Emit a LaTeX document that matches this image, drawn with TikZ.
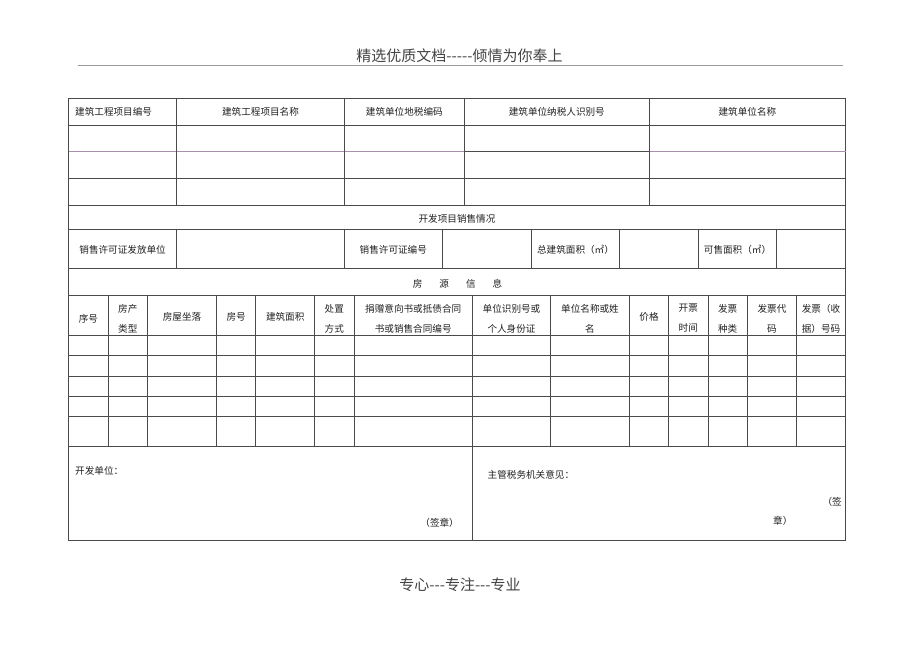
\documentclass[tikz,border=0pt]{standalone}
\usepackage{fontspec}
\newfontfamily\cjk{Noto Sans CJK SC}
\definecolor{rulec}{HTML}{4A4A4A}
\definecolor{plinec}{HTML}{A890AC}
\definecolor{hdrc}{HTML}{444444}
\definecolor{txtc}{HTML}{222222}
\begin{document}
\begin{tikzpicture}[x=1pt,y=-1pt,
  cell/.style={font=\cjk\fontsize{9.6}{20}\selectfont, text=txtc, inner sep=0pt, align=center},
  lcell/.style={cell, anchor=west},
  rcell/.style={cell, anchor=east},
  grid/.style={draw=rulec, line width=0.8pt},
  pgrid/.style={draw=plinec, line width=0.9pt},
  titletext/.style={font=\cjk\fontsize{15}{18}\selectfont, text=hdrc, inner sep=0pt}]
\path[use as bounding box, fill=white] (0,0) rectangle (920,651);

% header and footer
\node[titletext] (head) at (459.5,55.5) {精选优质文档-----倾情为你奉上};
\coordinate (hl) at (78,65.7);
\coordinate (hr) at (843,65.7);
\draw[draw=black!40, line width=0.7pt] (hl) -- (hr);
\node[titletext] (foot) at (460,585) {专心---专注---专业};

% outer frame
\draw[grid] (68.5,98.5) rectangle (845.5,540.5);

% horizontal rules
\foreach \y in {125,178.3,205,229.3,268.3,295.7,335.7,355.7,376,396,416,446.7}
  \draw[grid] (68.5,\y) -- (845.5,\y);
\draw[pgrid] (68.5,151.7) -- (464.3,151.7);
\draw[grid] (464.3,151.7) -- (649.3,151.7);
\draw[pgrid] (649.3,151.7) -- (845.5,151.7);

% vertical rules: project rows
\foreach \x in {176.7,344.3,464.3,649.3}
  \draw[grid] (\x,98.5) -- (\x,205);
% sales row
\foreach \x in {176.7,344.3,442.3,531,619.3,698.3,776.7}
  \draw[grid] (\x,229.3) -- (\x,268.3);
% house rows
\foreach \x in {108.3,147.3,216.7,255.7,314.7,354,472.3,550.7,629.3,668.7,708,747.3,796.7}
  \draw[grid] (\x,295.7) -- (\x,446.7);
% bottom
\draw[grid] (472.3,446.7) -- (472.3,540.5);

% project header
\node[lcell] (c1) at (75,112) {建筑工程项目编号};
\node[cell] (c2) at (260.5,112) {建筑工程项目名称};
\node[cell] (c3) at (404.3,112) {建筑单位地税编码};
\node[cell] (c4) at (556.8,112) {建筑单位纳税人识别号};
\node[cell] (c5) at (747.4,112) {建筑单位名称};

% sales
\node[cell] (sales) at (457,219) {开发项目销售情况};
\node[cell] (s1) at (122.6,250) {销售许可证发放单位};
\node[cell] (s2) at (393.3,250) {销售许可证编号};
\node[cell] (s3) at (575.5,250) {总建筑面积（㎡）};
\node[cell] (s4) at (737.5,250) {可售面积（㎡）};

% house info
\node[cell] (house) at (457.5,284) {房\hspace{17pt}源\hspace{17pt}信\hspace{17pt}息};
\node[cell] (h1) at (88.4,318.5) {序号};
\node[cell] (h2) at (127.8,318.5) {房产\\类型};
\node[cell] (h3) at (182,317) {房屋坐落};
\node[cell] (h4) at (236.2,317) {房号};
\node[cell] (h5) at (285.2,317) {建筑面积};
\node[cell] (h6) at (334.3,318.5) {处置\\方式};
\node[cell] (h7) at (413.2,318.5) {捐赠意向书或抵债合同\\书或销售合同编号};
\node[cell] (h8) at (511.5,318.5) {单位识别号或\\个人身份证};
\node[cell] (h9) at (590,318.5) {单位名称或姓\\名};
\node[cell] (h10) at (649,317) {价格};
\node[cell] (h11) at (688.3,318.5) {开票\\时间};
\node[cell] (h12) at (727.7,318.5) {发票\\种类};
\node[cell] (h13) at (772,318.5) {发票代\\码};
\node[cell] (h14) at (821,318.5) {发票（收\\据）号码};

% signature area
\node[lcell] (dev) at (75,471) {开发单位：};
\node[rcell] (seal1) at (459,522.5) {（签章）};
\node[lcell] (tax) at (487.5,475) {主管税务机关意见：};
\node[rcell] (seal2a) at (842,501.5) {（签};
\node[lcell] (seal2b) at (773,521) {章）};
\end{tikzpicture}
\end{document}
